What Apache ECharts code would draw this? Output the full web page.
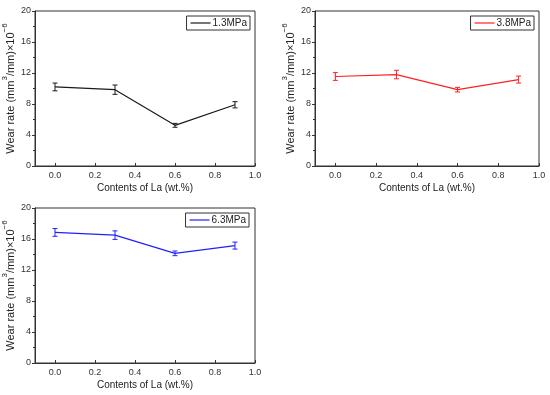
<!DOCTYPE html>
<html><head><meta charset="utf-8">
<script src="https://cdn.jsdelivr.net/npm/echarts@6/dist/echarts.min.js"></script>
<style>html,body{margin:0;padding:0;background:#fff}#c{width:550px;height:395px}</style>
</head><body><div id="c"></div>
<script>
var laContent = [0.0, 0.3, 0.6, 0.9];
var xTicks = [0.0, 0.2, 0.4, 0.6, 0.8, 1.0];
var seriesNames = ['1.3MPa', '3.8MPa', '6.3MPa'];
var wear13 = [10.2, 9.85, 5.25, 7.9];
var err13 = [0.5, 0.6, 0.25, 0.4];
var wear38 = [11.55, 11.8, 9.85, 11.15];
var err38 = [0.5, 0.55, 0.3, 0.45];
var wear63 = [16.85, 16.5, 14.15, 15.15];
var err63 = [0.5, 0.55, 0.3, 0.45];
var colors = ['#1a1a1a', '#ff2020', '#2020ff'];

var grids = [
  {left: 32, top: 11, width: 223, height: 155},
  {left: 315, top: 11, width: 224, height: 155},
  {left: 32, top: 208, width: 223, height: 155}
];
var legendPos = [
  {right: 300, top: 16},
  {right: 16, top: 16},
  {right: 301, top: 213}
];
var wears = [wear13, wear38, wear63];
var errs = [err13, err38, err63];
var font = 'Liberation Sans, Arial, sans-serif';

var option = {
  animation: false,
  backgroundColor: '#fff',
  grid: [], xAxis: [], yAxis: [], series: [], legend: []
};
for (var i = 0; i < 3; i++) {
  var g = grids[i];
  option.grid.push({left: g.left, top: g.top, width: g.width, height: g.height, show: true, borderColor: '#333', borderWidth: 1, backgroundColor: 'transparent'});
  option.xAxis.push({
    type: 'value', gridIndex: i, min: -0.1, max: 1.0,
    name: 'Contents of La (wt.%)', nameLocation: 'middle', nameGap: 17,
    nameTextStyle: {fontFamily: font, fontSize: 10, color: '#222'},
    axisLine: {show: true, onZero: false, lineStyle: {color: '#333', width: 1}},
    axisTick: {show: true, inside: true, length: 3, customValues: xTicks, lineStyle: {color: '#333'}},
    axisLabel: {customValues: xTicks, fontFamily: font, fontSize: 9, color: '#333', margin: 5,
      formatter: function (v) { return v.toFixed(1); }},
    splitLine: {show: false}
  });
  option.yAxis.push({
    type: 'value', gridIndex: i, min: 0, max: 20, interval: 4,
    name: '{m|Wear rate (mm}{s|3}{m|/mm)×10}{s|−6}', nameLocation: 'middle', nameGap: 19,
    nameTextStyle: {fontFamily: font, fontSize: 11, color: '#222',
      rich: {m: {fontFamily: font, fontSize: 11, color: '#222', lineHeight: 15, verticalAlign: 'bottom'},
             s: {fontFamily: font, fontSize: 8, color: '#222', lineHeight: 15, verticalAlign: 'top'}}},
    axisLine: {show: true, onZero: false, lineStyle: {color: '#333', width: 1}},
    axisTick: {show: true, inside: false, length: 3, lineStyle: {color: '#333'}},
    minorTick: {show: true, splitNumber: 2, length: 2, lineStyle: {color: '#333'}},
    axisLabel: {fontFamily: font, fontSize: 9, color: '#333', margin: 4},
    splitLine: {show: false}
  });
  var data = laContent.map(function (x, k) { return [x, wears[i][k]]; });
  option.series.push({
    type: 'line', name: seriesNames[i], xAxisIndex: i, yAxisIndex: i,
    data: data, symbol: 'none', lineStyle: {color: colors[i], width: 1.2}, itemStyle: {color: colors[i]}
  });
  var edata = laContent.map(function (x, k) { return [x, wears[i][k] - errs[i][k], wears[i][k] + errs[i][k]]; });
  (function (col) {
    option.series.push({
      type: 'custom', xAxisIndex: i, yAxisIndex: i, data: edata,
      renderItem: function (params, api) {
        var lo = api.coord([api.value(0), api.value(1)]);
        var hi = api.coord([api.value(0), api.value(2)]);
        var w = 2.5;
        var st = {stroke: col, lineWidth: 1, fill: null};
        return {type: 'group', children: [
          {type: 'line', shape: {x1: lo[0], y1: lo[1], x2: hi[0], y2: hi[1]}, style: st},
          {type: 'line', shape: {x1: lo[0] - w, y1: lo[1], x2: lo[0] + w, y2: lo[1]}, style: st},
          {type: 'line', shape: {x1: hi[0] - w, y1: hi[1], x2: hi[0] + w, y2: hi[1]}, style: st}
        ]};
      }
    });
  })(colors[i]);
  option.legend.push({
    data: [seriesNames[i]], right: legendPos[i].right, top: legendPos[i].top,
    orient: 'vertical', icon: 'rect', itemWidth: 20, itemHeight: 1.2, itemGap: 0,
    borderColor: '#333', borderWidth: 1, borderRadius: 0, padding: [2, 3, 2, 4],
    textStyle: {fontFamily: font, fontSize: 10, color: '#222', padding: [0, 0, 0, -3]},
    backgroundColor: '#fff', selectedMode: false
  });
}
var chart = echarts.init(document.getElementById('c'), null, {renderer: 'canvas'});
chart.setOption(option);
</script></body></html>
